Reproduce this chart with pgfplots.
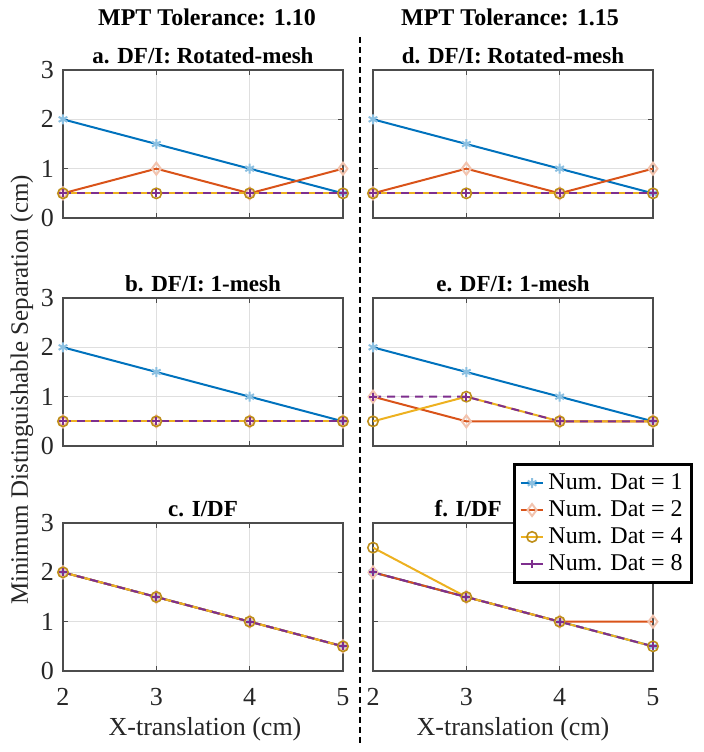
\documentclass[border=0pt]{standalone}
\usepackage{fontspec}
\setmainfont{Liberation Serif}
\usepackage{pgfplots}
\pgfplotsset{compat=1.18}

\definecolor{c1}{rgb}{0,0.447,0.741}
\definecolor{c2}{rgb}{0.85,0.325,0.098}
\definecolor{c3}{rgb}{0.929,0.694,0.125}
\definecolor{c4}{rgb}{0.494,0.184,0.556}

\pgfplotsset{
  panel/.style={
    scale only axis, width=140pt, height=74pt, anchor=north west,
    xmin=2, xmax=5, ymin=0, ymax=3,
    xtick={2,3,4,5}, ytick={0,1,2,3},
    grid=major, major grid style={gray!25, line width=0.4pt},
    axis line style={black!70, line width=0.8pt},
    tick style={black!70, line width=0.5pt}, tick align=inside, major tick length=2.5pt,
    tick label style={font=\fontsize{13}{14}\selectfont, text=black!85},
    xticklabel style={yshift=-5pt},
    yticklabel style={xshift=-1pt},
    /pgf/number format/assume math mode=true,
    title style={font=\bfseries\fontsize{11.5}{13}\selectfont, yshift=-6.5pt},
  },
  nox/.style={xticklabels={,,,}},
  noy/.style={yticklabels={,,,}},
  d1/.style={c1, line width=1pt, mark=asterisk, mark size=2.5pt, mark options={c1!45}},
  d2/.style={c2, line width=1pt, mark=diamond, mark size=3pt, mark options={c2!35}},
  d3/.style={c3, line width=1pt, mark=o, mark size=2.6pt, mark options={draw=c3!80!black, line width=0.8pt}},
  d4/.style={c4, line width=1pt, dash pattern=on 4pt off 3pt, mark=+, mark size=2pt, mark options={solid, c4}},
}

\begin{document}
\begin{tikzpicture}
\path[use as bounding box] (0,0) rectangle (352pt,376pt);

% headers and shared labels
\node[font=\bfseries\fontsize{12}{14}\selectfont] at (103.5pt,367.5pt) {MPT Tolerance: 1.10};
\node[font=\bfseries\fontsize{12}{14}\selectfont] at (255pt,367.5pt) {MPT Tolerance: 1.15};
\node[rotate=90, font=\fontsize{12.5}{14}\selectfont, text=black!85] at (11pt,181pt) {Minimum Distinguishable Separation (cm)};
\node[font=\fontsize{13}{15}\selectfont, text=black!85] at (102.5pt,11.5pt) {X-translation (cm)};
\node[font=\fontsize{13}{15}\selectfont, text=black!85] at (256.5pt,11.5pt) {X-translation (cm)};
\draw[black, line width=0.6pt, dash pattern=on 3pt off 2pt] (180pt,357.5pt) -- (180pt,3.5pt);

% a
\begin{axis}[panel, nox, at={(31.5pt,341pt)}, title={a. DF/I: Rotated-mesh}]
\addplot[d1] coordinates {(2,2) (3,1.5) (4,1) (5,0.5)};
\addplot[d2] coordinates {(2,0.5) (3,1) (4,0.5) (5,1)};
\addplot[d3] coordinates {(2,0.5) (3,0.5) (4,0.5) (5,0.5)};
\addplot[d4] coordinates {(2,0.5) (3,0.5) (4,0.5) (5,0.5)};
\end{axis}

% b
\begin{axis}[panel, nox, at={(31.5pt,227pt)}, title={b. DF/I: 1-mesh}]
\addplot[d1] coordinates {(2,2) (3,1.5) (4,1) (5,0.5)};
\addplot[d2] coordinates {(2,0.5) (3,0.5) (4,0.5) (5,0.5)};
\addplot[d3] coordinates {(2,0.5) (3,0.5) (4,0.5) (5,0.5)};
\addplot[d4] coordinates {(2,0.5) (3,0.5) (4,0.5) (5,0.5)};
\end{axis}

% c
\begin{axis}[panel, at={(31.5pt,114.5pt)}, title={c. I/DF}]
\addplot[d1] coordinates {(2,2) (3,1.5) (4,1) (5,0.5)};
\addplot[d2] coordinates {(2,2) (3,1.5) (4,1) (5,0.5)};
\addplot[d3] coordinates {(2,2) (3,1.5) (4,1) (5,0.5)};
\addplot[d4] coordinates {(2,2) (3,1.5) (4,1) (5,0.5)};
\end{axis}

% d
\begin{axis}[panel, nox, noy, at={(186.5pt,341pt)}, title={d. DF/I: Rotated-mesh}]
\addplot[d1] coordinates {(2,2) (3,1.5) (4,1) (5,0.5)};
\addplot[d2] coordinates {(2,0.5) (3,1) (4,0.5) (5,1)};
\addplot[d3] coordinates {(2,0.5) (3,0.5) (4,0.5) (5,0.5)};
\addplot[d4] coordinates {(2,0.5) (3,0.5) (4,0.5) (5,0.5)};
\end{axis}

% e
\begin{axis}[panel, nox, noy, at={(186.5pt,227pt)}, title={e. DF/I: 1-mesh}]
\addplot[d1] coordinates {(2,2) (3,1.5) (4,1) (5,0.5)};
\addplot[d2] coordinates {(2,1) (3,0.5) (4,0.5) (5,0.5)};
\addplot[d3] coordinates {(2,0.5) (3,1) (4,0.5) (5,0.5)};
\addplot[d4] coordinates {(2,1) (3,1) (4,0.5) (5,0.5)};
\end{axis}

% f
\begin{axis}[panel, noy, at={(186.5pt,114.5pt)}, title={f. I/DF},
  title style={at={(0.34,1)}},
  legend style={at={(1.143,1.403)}, anchor=north east, draw=black, line width=1.4pt,
    font=\fontsize{12}{13}\selectfont, row sep=0pt, inner sep=2.5pt},
  legend image code/.code={\draw[mark repeat=2, mark phase=2] plot coordinates {(0cm,0cm) (0.2cm,0cm) (0.4cm,0cm)};},
  legend cell align=left]
\addplot[d1] coordinates {(2,2) (3,1.5) (4,1) (5,0.5)};
\addplot[d2] coordinates {(2,2) (3,1.5) (4,1) (5,1)};
\addplot[d3] coordinates {(2,2.5) (3,1.5) (4,1) (5,0.5)};
\addplot[d4] coordinates {(2,2) (3,1.5) (4,1) (5,0.5)};
\legend{Num. Dat = 1, Num. Dat = 2, Num. Dat = 4, Num. Dat = 8}
\end{axis}
\end{tikzpicture}
\end{document}
